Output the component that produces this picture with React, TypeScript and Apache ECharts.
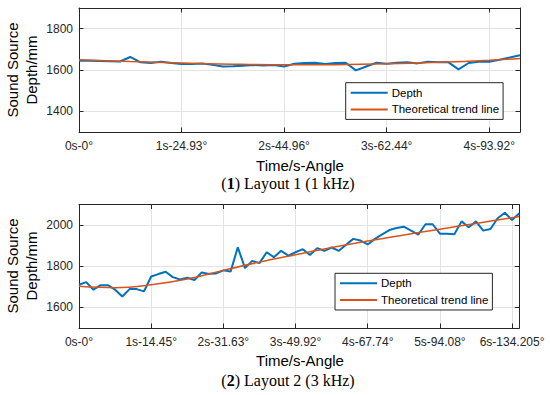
import React, { useEffect, useRef } from "react";
import * as echarts from "echarts";

// ---------- Data ----------
const STEP = 0.1; // sampling step in seconds

// Layout 1 (1 kHz) measured depth, t = 0 .. 4.3 s
const depth1 = [
  1645, 1645, 1644, 1642, 1641, 1663, 1637, 1634, 1640, 1634,
  1629, 1629, 1631, 1625, 1617, 1618, 1620, 1624, 1622, 1624,
  1617, 1630, 1634, 1635, 1629, 1634, 1635, 1598, 1617, 1635,
  1630, 1635, 1637, 1632, 1640, 1638, 1638, 1603, 1634, 1640,
  1640, 1650, 1660, 1671,
];
const trendT1 = [0, 0.5, 1, 1.5, 2, 2.5, 3, 3.5, 4, 4.3];
const trendV1 = [1650, 1641, 1634, 1628, 1625, 1626, 1630, 1637, 1647, 1656];
const xTicks1 = [0, 1, 2, 3, 4];
const xLabels1 = ["0s-0°", "1s-24.93°", "2s-44.96°", "3s-62.44°", "4s-93.92°"];
const yTicks1 = [1400, 1600, 1800];

// Layout 2 (3 kHz) measured depth, t = 0 .. 6.1 s
const depth2 = [
  1710, 1723, 1686, 1708, 1708, 1686, 1653, 1689, 1689, 1678,
  1750, 1762, 1773, 1747, 1736, 1744, 1733, 1770, 1763, 1765,
  1780, 1774, 1892, 1791, 1826, 1815, 1868, 1844, 1875, 1852,
  1868, 1883, 1855, 1888, 1875, 1891, 1875, 1904, 1933, 1925,
  1906, 1933, 1955, 1976, 1986, 1992, 1973, 1954, 2004, 2004,
  1958, 1958, 1955, 2018, 1989, 2018, 1973, 1981, 2033, 2060,
  2025, 2057,
];
const trendT2 = [0, 0.5, 1, 1.5, 2, 2.5, 3, 3.5, 4, 4.5, 5, 5.5, 6, 6.1];
const trendV2 = [1703, 1696, 1710, 1738, 1780, 1820, 1856, 1891, 1923, 1952, 1980, 2008, 2036, 2042];
const xTicks2 = [0, 1, 2, 3, 4, 5, 6];
const xLabels2 = ["0s-0°", "1s-14.45°", "2s-31.63°", "3s-49.92°", "4s-67.74°", "5s-94.08°", "6s-134.205°"];
const yTicks2 = [1600, 1800, 2000];

const BLUE = "#0072BD";
const ORANGE = "#D95319";
const AXIS = "#262626";
const GRID = "#e3e3e3";
const SANS = "Liberation Sans, Arial, sans-serif";
const SERIF = "Liberation Serif, Times New Roman, serif";

function makeAxes(
  gridIndex: number,
  xMax: number,
  xTicks: number[],
  xLabels: string[],
  yMin: number,
  yMax: number,
  yTicks: number[]
) {
  const line = { show: true, onZero: false, lineStyle: { color: AXIS, width: 1 } };
  const tick = (vals: number[]) => ({
    show: true,
    inside: true,
    length: 4.5,
    customValues: vals,
    lineStyle: { color: AXIS, width: 1 },
  });
  const xAxes = [
    {
      type: "value",
      gridIndex,
      position: "bottom",
      min: 0,
      max: xMax,
      axisLine: line,
      axisTick: tick(xTicks),
      axisLabel: {
        show: true,
        customValues: xTicks,
        margin: 8,
        color: AXIS,
        fontSize: 12,
        fontFamily: SANS,
        formatter: (v: number) => {
          const i = xTicks.indexOf(Math.round(v));
          return i >= 0 ? xLabels[i] : "";
        },
      },
      splitLine: { show: true, lineStyle: { color: GRID, width: 1 } },
    },
    {
      type: "value",
      gridIndex,
      position: "top",
      min: 0,
      max: xMax,
      axisLine: line,
      axisTick: tick(xTicks),
      axisLabel: { show: false },
      splitLine: { show: false },
    },
  ];
  const yAxes = [
    {
      type: "value",
      gridIndex,
      position: "left",
      min: yMin,
      max: yMax,
      axisLine: line,
      axisTick: tick(yTicks),
      axisLabel: {
        show: true,
        customValues: yTicks,
        margin: 6,
        color: AXIS,
        fontSize: 12,
        fontFamily: SANS,
        formatter: (v: number) => String(Math.round(v)),
      },
      splitLine: { show: true, lineStyle: { color: GRID, width: 1 } },
    },
    {
      type: "value",
      gridIndex,
      position: "right",
      min: yMin,
      max: yMax,
      axisLine: line,
      axisTick: tick(yTicks),
      axisLabel: { show: false },
      splitLine: { show: false },
    },
  ];
  return { xAxes, yAxes };
}

export default function App() {
  const ref = useRef<HTMLDivElement>(null);

  useEffect(() => {
    if (!ref.current) return;
    const chart = echarts.init(ref.current, undefined, { renderer: "svg" });

    const a1 = makeAxes(0, 4.3, xTicks1, xLabels1, 1300, 1900, yTicks1);
    const a2 = makeAxes(1, 6.1, xTicks2, xLabels2, 1500, 2100, yTicks2);

    const d1 = depth1.map((v, i) => [i * STEP, v]);
    const d2 = depth2.map((v, i) => [i * STEP, v]);
    const t1 = trendT1.map((t, i) => [t, trendV1[i]]);
    const t2 = trendT2.map((t, i) => [t, trendV2[i]]);

    const legendBase = {
      orient: "vertical",
      data: ["Depth", "Theoretical trend line"],
      backgroundColor: "#fff",
      borderColor: AXIS,
      borderWidth: 1,
      borderRadius: 0,
      padding: [4, 4, 4, 4],
      itemWidth: 37,
      itemHeight: 10,
      itemGap: 4.7,
      selectedMode: false,
      itemStyle: { opacity: 0, borderWidth: 0 },
      textStyle: { fontSize: 11.5, fontFamily: SANS, color: "#000", padding: [0, 0, 0, -1] },
    };

    const textStyle = (size: number) => ({
      fontSize: size,
      fontFamily: SANS,
      fill: "#000",
      align: "center",
      verticalAlign: "middle",
    });

    const caption = (y: number, n: string, rest: string) => ({
      type: "text",
      x: 288,
      y,
      style: {
        text: `({b|${n}}) ${rest}`,
        fontSize: 16,
        fontFamily: SERIF,
        fill: "#000",
        align: "center",
        verticalAlign: "middle",
        rich: { b: { fontSize: 16, fontFamily: SERIF, fontWeight: "bold", fill: "#000" } },
      },
    });

    chart.setOption({
      animation: false,
      backgroundColor: "#fff",
      grid: [
        { left: 79, top: 8, right: 30, height: 124, containLabel: false },
        { left: 79, top: 204.5, right: 30.7, height: 123.5, containLabel: false },
      ],
      xAxis: [...a1.xAxes, ...a2.xAxes],
      yAxis: [...a1.yAxes, ...a2.yAxes],
      legend: [
        { ...legendBase, left: 345.7, top: 82.7 },
        { ...legendBase, left: 335, top: 273.3 },
      ],
      series: [
        {
          name: "Depth",
          type: "line",
          xAxisIndex: 0,
          yAxisIndex: 0,
          data: d1,
          symbol: "none",
          lineStyle: { color: BLUE, width: 2 },
          itemStyle: { color: BLUE },
          z: 3,
        },
        {
          name: "Theoretical trend line",
          type: "line",
          xAxisIndex: 0,
          yAxisIndex: 0,
          data: t1,
          smooth: 0.4,
          symbol: "none",
          lineStyle: { color: ORANGE, width: 1.5 },
          itemStyle: { color: ORANGE },
          z: 4,
        },
        {
          name: "Depth",
          type: "line",
          xAxisIndex: 2,
          yAxisIndex: 2,
          data: d2,
          symbol: "none",
          lineStyle: { color: BLUE, width: 2 },
          itemStyle: { color: BLUE },
          z: 3,
        },
        {
          name: "Theoretical trend line",
          type: "line",
          xAxisIndex: 2,
          yAxisIndex: 2,
          data: t2,
          smooth: 0.4,
          symbol: "none",
          lineStyle: { color: ORANGE, width: 1.5 },
          itemStyle: { color: ORANGE },
          z: 4,
        },
      ],
      graphic: [
        {
          type: "text",
          x: 22,
          y: 70,
          rotation: Math.PI / 2,
          style: { ...textStyle(15), text: "Sound Source\nDepth/mm", lineHeight: 19 },
        },
        {
          type: "text",
          x: 22,
          y: 266,
          rotation: Math.PI / 2,
          style: { ...textStyle(15), text: "Sound Source\nDepth/mm", lineHeight: 19 },
        },
        { type: "text", x: 300, y: 165, style: { ...textStyle(15), text: "Time/s-Angle" } },
        { type: "text", x: 300, y: 360.7, style: { ...textStyle(15), text: "Time/s-Angle" } },
        caption(183.5, "1", "Layout 1 (1 kHz)"),
        caption(380.5, "2", "Layout 2 (3 kHz)"),
      ],
    });

    return () => chart.dispose();
  }, []);

  return (
    <div
      ref={ref}
      style={{ position: "fixed", left: 0, top: 0, width: 550, height: 395, background: "#fff" }}
    />
  );
}
